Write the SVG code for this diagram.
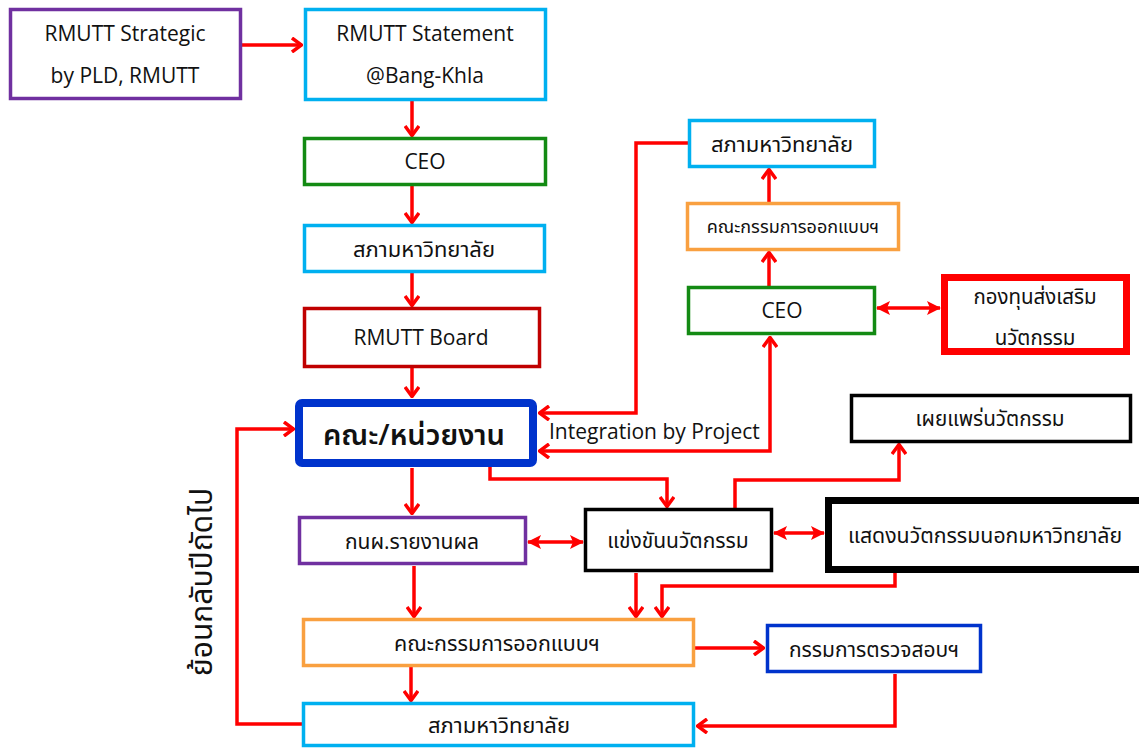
<svg xmlns="http://www.w3.org/2000/svg" width="1139" height="749" viewBox="0 0 1139 749">
<style>
.bx{fill:#fff;stroke-width:3.5}
.t{font-family:"Open Sans","Noto Sans Thai","Noto Sans",sans-serif;font-size:21px;fill:#111;text-anchor:middle}
.c{fill:none;stroke:#f00;stroke-width:3.5;stroke-linejoin:miter}
.o{marker-end:url(#ao)}
.d{marker-start:url(#af);marker-end:url(#af)}
</style>
<defs>
<marker id="ao" viewBox="0 0 12 16" refX="11" refY="8" markerWidth="12" markerHeight="16" markerUnits="userSpaceOnUse" orient="auto-start-reverse">
<path d="M1,1 L10.5,8 L1,15" fill="none" stroke="#f00" stroke-width="3.5"/>
</marker>
<marker id="af" viewBox="0 0 14 14" refX="13" refY="7" markerWidth="14" markerHeight="14" markerUnits="userSpaceOnUse" orient="auto-start-reverse">
<path d="M0,0 L14,7 L0,14 L3,7 z" fill="#f00"/>
</marker>
</defs>
<rect width="1139" height="749" fill="#fff"/>

<g id="connectors">
<path class="c o" d="M242,45 H302"/>
<path class="c o" d="M412,101 V136"/>
<path class="c o" d="M412,186 V223"/>
<path class="c o" d="M412,273 V306"/>
<path class="c o" d="M412,368 V397"/>
<path class="c o" d="M688,143 H636 V413 H539"/>
<path class="c" d="M539,451 H770 V337" style="marker-start:url(#ao);marker-end:url(#ao)"/>
<path class="c o" d="M769,286 V252"/>
<path class="c o" d="M769,203 V169"/>
<path class="c d" d="M877,308 H940"/>
<path class="c o" d="M412,468 V514"/>
<path class="c o" d="M490,467 V479 H667 V507"/>
<path class="c d" d="M528,542 H583"/>
<path class="c d" d="M774,533 H824"/>
<path class="c o" d="M735,508 V480 H899 V444"/>
<path class="c o" d="M414,566 V617"/>
<path class="c o" d="M636,573 V617"/>
<path class="c o" d="M895,573 V586 H662 V617"/>
<path class="c o" d="M695,648 H764"/>
<path class="c o" d="M411,667 V701"/>
<path class="c o" d="M895,674 V726 H697"/>
<path class="c o" d="M302,724 H237 V429 H294"/>
</g>

<g id="n-strategic"><rect class="bx" x="10.5" y="9.5" width="230" height="89" stroke="#7030A0"/>
<text class="t" x="125" y="41">RMUTT Strategic</text><text class="t" x="125" y="83">by PLD, RMUTT</text></g>
<g id="n-statement"><rect class="bx" x="305.5" y="9.5" width="240" height="90" stroke="#00B0F0"/>
<text class="t" x="425" y="41">RMUTT Statement</text><text class="t" x="425" y="83">@Bang-Khla</text></g>
<g id="n-ceo1"><rect class="bx" x="304.5" y="138.5" width="241" height="46" stroke="#138A13"/>
<text class="t" x="425" y="169">CEO</text></g>
<g id="n-council1"><rect class="bx" x="304.5" y="225.5" width="240" height="46" stroke="#00B0F0"/>
<text class="t" x="424" y="257" style="font-size:22px">สภามหาวิทยาลัย</text></g>
<g id="n-board"><rect class="bx" x="304.5" y="308.5" width="235" height="58" stroke="#C00000"/>
<text class="t" x="421" y="345">RMUTT Board</text></g>
<g id="n-faculty"><rect x="299" y="403" width="234" height="60" rx="3" fill="#fff" stroke="#0033CC" stroke-width="8"/>
<text class="t" x="414" y="445" style="font-size:29px;font-weight:600">คณะ/หน่วยงาน</text></g>
<text class="t" x="549" y="439" style="text-anchor:start">Integration by Project</text>
<g id="n-council-r"><rect class="bx" x="689.5" y="120.5" width="185" height="46" stroke="#00B0F0"/>
<text class="t" x="782" y="152" style="font-size:22px">สภามหาวิทยาลัย</text></g>
<g id="n-design-r"><rect class="bx" x="687.5" y="203.5" width="211" height="46" stroke="#F9A040"/>
<text class="t" x="793" y="233" style="font-size:18px">คณะกรรมการออกแบบฯ</text></g>
<g id="n-ceo-r"><rect class="bx" x="688.5" y="287.5" width="186" height="46" stroke="#138A13"/>
<text class="t" x="782" y="318">CEO</text></g>
<g id="n-fund"><rect x="944.5" y="277.5" width="182" height="74" fill="#fff" stroke="#f00" stroke-width="7"/>
<text class="t" x="1035" y="304" style="font-size:20.5px">กองทุนส่งเสริม</text><text class="t" x="1035" y="345" style="font-size:20.5px">นวัตกรรม</text></g>
<g id="n-spread"><rect class="bx" x="851.5" y="395.5" width="279" height="46" stroke="#000"/>
<text class="t" x="990" y="426" style="font-size:20.7px">เผยแพร่นวัตกรรม</text></g>
<g id="n-report"><rect class="bx" x="299.5" y="517.5" width="226" height="46" stroke="#7030A0"/>
<text class="t" x="412" y="549">กนผ.รายงานผล</text></g>
<g id="n-compete"><rect class="bx" x="585.5" y="509.5" width="186" height="61" stroke="#000"/>
<text class="t" x="678" y="548">แข่งขันนวัตกรรม</text></g>
<g id="n-show"><rect x="828.5" y="500.5" width="320" height="69" fill="#fff" stroke="#000" stroke-width="7"/>
<text class="t" x="848" y="543" style="text-anchor:start;font-size:21.3px">แสดงนวัตกรรมนอกมหาวิทยาลัย</text></g>
<g id="n-design"><rect class="bx" x="303.5" y="619.5" width="390" height="46" stroke="#F9A040"/>
<text class="t" x="497" y="651" style="font-size:21.5px">คณะกรรมการออกแบบฯ</text></g>
<g id="n-audit"><rect class="bx" x="767.5" y="625.5" width="213" height="46" stroke="#0033CC"/>
<text class="t" x="874" y="657">กรรมการตรวจสอบฯ</text></g>
<g id="n-council2"><rect class="bx" x="303.5" y="703.5" width="390" height="42" stroke="#00B0F0"/>
<text class="t" x="499" y="733" style="font-size:22px">สภามหาวิทยาลัย</text></g>
<text class="t" transform="translate(212,582) rotate(-90)" style="font-size:30px">ย้อนกลับปีถัดไป</text>
</svg>
